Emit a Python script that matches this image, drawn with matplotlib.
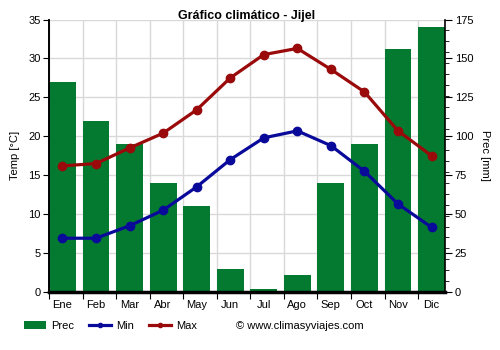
import numpy as np
import matplotlib
matplotlib.use("Agg")
import matplotlib.pyplot as plt
from matplotlib.patches import Patch
from matplotlib.lines import Line2D

months = ["Ene", "Feb", "Mar", "Abr", "May", "Jun",
          "Jul", "Ago", "Sep", "Oct", "Nov", "Dic"]
prec = [135, 110, 95, 70, 55, 15, 2, 11, 70, 95, 156, 170]
t_min = [6.9, 6.9, 8.5, 10.5, 13.5, 17.0, 19.8, 20.7, 18.8, 15.5, 11.3, 8.3]
t_max = [16.2, 16.5, 18.5, 20.4, 23.4, 27.5, 30.5, 31.3, 28.6, 25.7, 20.7, 17.5]

green = "#037a2f"
blue = "#0a0a9a"
red = "#9a0a0a"

plt.rcParams["font.family"] = ["Liberation Sans", "DejaVu Sans"]

fig = plt.figure(figsize=(5, 3.5), dpi=100)
ax_p = fig.add_axes([0.098, 0.166, 0.792, 0.778])
# twin first: twinx() resets the parent's ticks to the left side
ax_t = ax_p.twinx()
x = np.arange(len(months))
bar_w = 0.8

# precipitation bars on the primary axes (right scale), drawn underneath;
# each bar starts at its month boundary, the last one closes the axis
ax_p.bar(x, prec, width=bar_w, color=green, zorder=2)
ax_p.set_ylim(0, 175)
ax_p.set_xlim(-bar_w / 2, len(months) - 1 + bar_w / 2)
ax_p.yaxis.tick_right()
ax_p.yaxis.set_label_position("right")
ax_p.set_yticks(np.arange(0, 176, 25))
ax_p.set_yticks(np.arange(0, 176, 7), minor=True)
ax_p.tick_params(axis="y", which="major", length=5, labelsize=8, pad=2)
ax_p.tick_params(axis="y", which="minor", length=3)
ax_p.set_ylabel("Prec [mm]", fontsize=8, rotation=-90, labelpad=12)

# month boundaries as ticks + vertical grid, names centred on the bars
ax_p.set_xticks(x - bar_w / 2)
ax_p.set_xticklabels([])
ax_p.set_xticks(x, minor=True)
ax_p.set_xticklabels(months, minor=True, fontsize=8)
ax_p.tick_params(axis="x", which="major", length=5)
ax_p.tick_params(axis="x", which="minor", length=0, pad=6)
ax_p.grid(True, which="major", color="#d9d9d9", linewidth=1, zorder=0)
ax_p.set_axisbelow(True)

ax_p.spines["top"].set_visible(False)
ax_p.spines["left"].set_linewidth(1.2)
ax_p.spines["right"].set_linewidth(1.2)
ax_p.spines["bottom"].set_linewidth(2.5)
ax_p.spines["bottom"].set_zorder(3)

# temperature lines on the twin axes (left scale)
ax_t.yaxis.tick_left()
ax_t.yaxis.set_label_position("left")
ax_t.set_ylim(0, 35)
ax_t.set_yticks(np.arange(0, 36, 5))
ax_t.tick_params(axis="y", length=4, labelsize=8, pad=2)
ax_t.set_ylabel("Temp [°C]", fontsize=8, labelpad=6)
for side in ["top", "right", "bottom"]:
    ax_t.spines[side].set_visible(False)
ax_t.spines["left"].set_linewidth(1.2)

ax_t.plot(x, t_min, color=blue, linewidth=2.3, marker="o", markersize=6)
ax_t.plot(x, t_max, color=red, linewidth=2.3, marker="o", markersize=6)

fig.text(0.494, 0.955, "Gráfico climático - Jijel", ha="center", va="center",
         fontsize=9, fontweight="bold")

handles = [
    Patch(facecolor=green),
    Line2D([0], [0], color=blue, linewidth=2.3, marker="o", markersize=3),
    Line2D([0], [0], color=red, linewidth=2.3, marker="o", markersize=3),
]
fig.legend(handles, ["Prec", "Min", "Max"], loc="center left",
           bbox_to_anchor=(0.047, 0.068), ncol=3, frameon=False, fontsize=8,
           handlelength=2.0, handletextpad=0.45, columnspacing=1.35,
           borderpad=0, borderaxespad=0)
fig.text(0.472, 0.068, "© www.climasyviajes.com", ha="left", va="center",
         fontsize=8)

fig.savefig("out.png", dpi=100)
